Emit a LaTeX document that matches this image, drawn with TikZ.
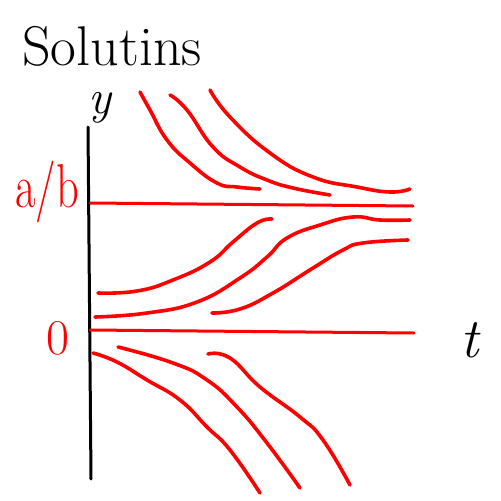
\documentclass[tikz,border=0pt]{standalone}
\usepackage{fontspec}
\begin{document}
\begin{tikzpicture}[x=1pt,y=-1pt,
  curve/.style={red,line width=3.6pt,line cap=round,line join=round},
  eqline/.style={red,line width=3pt,line cap=round},
  axisline/.style={black,line width=3pt,line cap=round},
  handtext/.style={inner sep=0pt}]
\useasboundingbox (0,0) rectangle (501,501);
% axis
\coordinate (ytop) at (88,127);
\coordinate (ybot) at (91,479);
\draw[axisline] (ytop) -- (ybot);
% equilibrium lines
\coordinate (ab0) at (90,203);
\coordinate (ab1) at (413,206);
\coordinate (z0) at (90,330);
\coordinate (z1) at (414,333);
\draw[eqline] (ab0) -- (ab1);
\draw[eqline] (z0) -- (z1);
% upper curves
\draw[curve] plot[smooth,tension=0.8] coordinates {(140,92) (150,110) (167,140) (190,163) (217,183) (237,187) (260,189)};
\draw[curve] plot[smooth,tension=0.8] coordinates {(170,95) (187,110) (213,147) (240,167) (267,180) (293,188) (330,195)};
\draw[curve] plot[smooth,tension=0.8] coordinates {(210,90) (230,117) (270,153) (313,177) (357,187) (390,192) (410,189)};
% middle curves
\draw[curve] plot[smooth,tension=0.8] coordinates {(98,293) (137,291) (173,280) (210,262) (233,242) (257,223) (272,219)};
\draw[curve] plot[smooth,tension=0.8] coordinates {(95,317) (147,313) (197,302) (240,278) (267,257) (287,238) (320,225) (353,217) (380,220) (410,220)};
\draw[curve] plot[smooth,tension=0.8] coordinates {(212,313) (240,309) (273,293) (313,268) (343,250) (363,243) (408,240)};
% lower curves
\draw[curve] plot[smooth,tension=0.8] coordinates {(93,353) (117,362) (147,380) (180,400) (207,427) (230,450) (260,493)};
\draw[curve] plot[smooth,tension=0.8] coordinates {(118,347) (173,363) (207,380) (237,407) (267,443) (300,488)};
\draw[curve] plot[smooth,tension=0.8] coordinates {(208,354) (230,358) (260,387) (300,417) (323,440) (350,485)};
% labels
\node[handtext] (title) at (112,46) {\fontsize{56}{64}\selectfont Solutins};
\node[handtext] (ylab) at (100,108) {\fontsize{48}{56}\selectfont\itshape y};
\node[handtext,red] (ablab) at (47,192) {\scalebox{0.72}[1]{\fontsize{62}{70}\selectfont a/b}};
\node[handtext,red] (zlab) at (58,338) {\fontsize{50}{58}\selectfont 0};
\node[handtext] (tlab) at (470,340) {\fontsize{56}{64}\selectfont\itshape t};
\end{tikzpicture}
\end{document}
